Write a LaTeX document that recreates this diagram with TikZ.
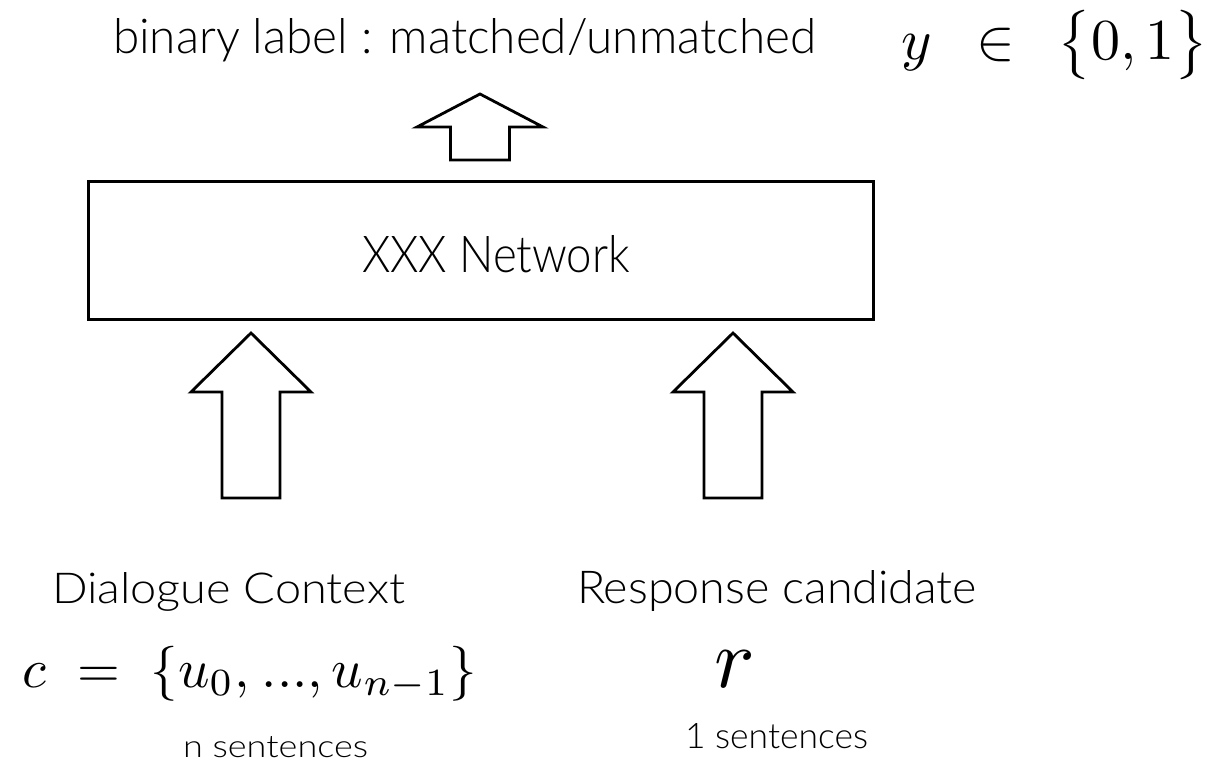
\documentclass[tikz,border=0pt]{standalone}
\usepackage[no-math]{fontspec}
\usepackage{graphicx}
\newfontfamily\labelfont{Lato Light}

% sans label fitted to a given width and ascender height (in pt)
\newcommand\fitlabel[3]{\resizebox{#1pt}{#2pt}{\labelfont #3}}

% hollow block arrow pointing up:
% name, tip x, tip y, head width, head length, shaft width, total length
\newcommand\blockarrow[7]{%
  \pgfmathsetmacro\baHalf{#4/2}%
  \pgfmathsetmacro\baStep{(#4-#6)/2}%
  \pgfmathsetmacro\baShaft{#7-#5}%
  \coordinate (#1) at (#2,#3);
  \draw[outline] (#1) -- ++(\baHalf,#5) -- ++(-\baStep,0) -- ++(0,\baShaft)
    -- ++(-#6,0) -- ++(0,-\baShaft) -- ++(-\baStep,0) -- cycle;
}

\tikzset{
  lbl/.style={inner sep=0pt, outer sep=0pt, anchor=base west},
  outline/.style={draw=black, line width=2.8pt, line join=miter, fill=white},
}

\begin{document}
\begin{tikzpicture}[x=1pt, y=-1pt]
  \useasboundingbox (0,0) rectangle (1218,764);
  \fill[white] (0,0) rectangle (1218,764);

  % output label
  \node[lbl] (outlabel) at (113,53) {\fitlabel{703}{35}{binary label : matched/unmatched}};
  \node[lbl] (outset) at (901,59)
    {\scalebox{5.8}{$y\mkern9mu\in\mkern8mu\left\{\vrule height8.5pt width0pt 0,1\right\}$}};

  % output arrow
  \blockarrow{outarrow}{480}{94}{126}{33}{59}{66}

  % network block
  \node[outline, fill=none, anchor=north west, minimum width=785pt, minimum height=138pt,
        inner sep=0pt] (net) at (87,180) {};
  \node[lbl] (nettext) at (362,272) {\fitlabel{268}{37}{XXX Network}};

  % input arrows
  \blockarrow{ctxarrow}{251}{333}{120}{59}{58}{165}
  \blockarrow{resarrow}{733}{333}{120}{59}{58}{165}

  % dialogue context input
  \node[lbl] (ctxtitle) at (52,603) {\fitlabel{353}{31}{Dialogue Context}};
  \node[lbl] (ctxset) at (23,687)
    {\scalebox{5.5}{$c\mkern5mu=\mkern5mu\{u_0,\mkern1mu...,u_{n-1}\}$}};
  \node[lbl] (ctxcount) at (183,757) {\fitlabel{185}{21}{n sentences}};

  % response candidate input
  \node[lbl] (restitle) at (577,603) {\fitlabel{400}{33}{Response candidate}};
  \node[lbl] (resvar) at (714,687) {\scalebox{8.5}{$r$}};
  \node[lbl] (rescount) at (685,748) {\fitlabel{183}{25}{1 sentences}};
\end{tikzpicture}
\end{document}
